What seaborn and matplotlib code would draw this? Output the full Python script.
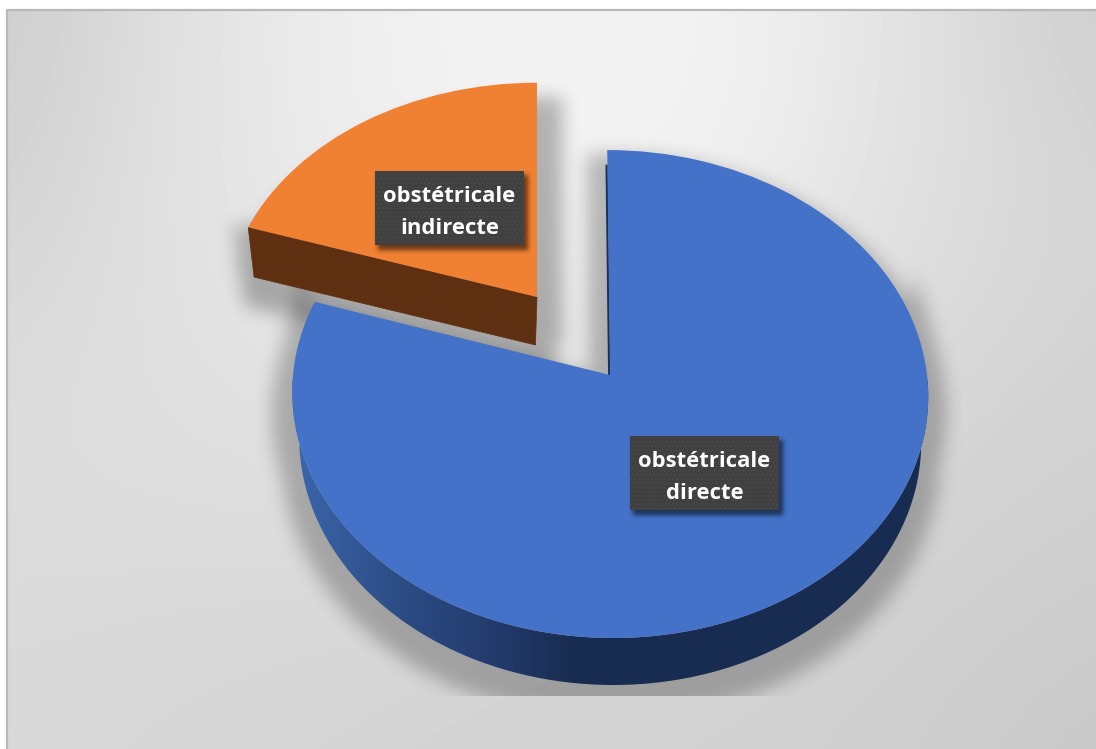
import numpy as np
import matplotlib
matplotlib.use("Agg")
import matplotlib.pyplot as plt
import seaborn as sns
from matplotlib.backends.backend_agg import FigureCanvasAgg
from matplotlib.figure import Figure
from matplotlib.patches import Polygon, Rectangle
from matplotlib.transforms import Transform

# Shares of the two categories
categories = ["obstétricale directe", "obstétricale indirecte"]
shares = [80, 20]
label_lines = [["obstétricale", "directe"], ["obstétricale", "indirecte"]]

W, H = 1096, 749
DPI = 100

sns.set_theme(style="white")
plt.rcParams["font.family"] = ["Open Sans", "DejaVu Sans"]
palette = sns.color_palette(["#4472C8", "#F08032"])


class TiltedDisc(Transform):
    """Projects the unit pie onto a receding plane, in pixel coordinates."""
    input_dims = output_dims = 2
    is_affine = False
    has_inverse = False

    def __init__(self, cx, cy, ax_x, ax_y, k=0.078, skew=0.0):
        super().__init__()
        self.cx, self.cy, self.ax_x, self.ax_y, self.k, self.skew = cx, cy, ax_x, ax_y, k, skew

    def transform_non_affine(self, values):
        values = np.asarray(values, dtype=float)
        x, y = values[:, 0], values[:, 1]
        w = 1 + self.k * y
        return np.column_stack([
            self.cx + self.ax_x * x / w - self.skew * y / w,
            self.cy - self.ax_y * y / w,
        ])


def rim(t, theta1, theta2, n=240):
    a = np.radians(np.linspace(theta1, theta2, n))
    return t.transform_non_affine(np.column_stack([np.cos(a), np.sin(a)]))


def apex(t):
    return t.transform_non_affine(np.array([[0.0, 0.0]]))


def soft_mask(polys, stroke, sigma):
    """Rasterises polygons and returns a blurred coverage array."""
    f = Figure(figsize=(W / DPI, H / DPI), dpi=DPI)
    f.patch.set_alpha(0)
    canvas = FigureCanvasAgg(f)
    a = f.add_axes([0, 0, 1, 1])
    a.set_xlim(0, W)
    a.set_ylim(H, 0)
    a.axis("off")
    for p in polys:
        a.add_patch(Polygon(p, closed=True, fc="k", ec="k", lw=stroke))
    canvas.draw()
    m = np.asarray(canvas.buffer_rgba())[:, :, 3].astype(float) / 255
    r = int(3 * sigma)
    g = np.exp(-0.5 * (np.arange(-r, r + 1) / sigma) ** 2)
    g /= g.sum()
    m = np.apply_along_axis(lambda v: np.convolve(v, g, mode="same"), 0, m)
    m = np.apply_along_axis(lambda v: np.convolve(v, g, mode="same"), 1, m)
    return m


def put_shadow(ax, m, strength, z):
    rgba = np.zeros((H, W, 4))
    rgba[:, :, 3] = np.clip(m * strength, 0, 1)
    ax.imshow(rgba, extent=(0, W, H, 0), zorder=z, interpolation="nearest", aspect="auto")


fig = plt.figure(figsize=(W / DPI, H / DPI), dpi=DPI, facecolor="white")
ax = fig.add_axes([0, 0, 1, 1])

wedges, _ = ax.pie(shares, startangle=90, counterclock=False, colors=palette, radius=1,
                   wedgeprops={"linewidth": 0})
ax.set_aspect("auto")
ax.set_xlim(0, W)
ax.set_ylim(H, 0)
ax.axis("off")

# Panel background: soft grey gradient, brightest near the top centre
panel_levels = np.array([
    [0xcb, 0xe2, 0xf0, 0xf4, 0xf2, 0xe2, 0xcc],
    [0xd0, 0xe3, 0xef, 0xf4, 0xf1, 0xe0, 0xd4],
    [0xd8, 0xe1, 0xe8, 0xec, 0xe8, 0xdc, 0xd4],
    [0xdc, 0xde, 0xe0, 0xe0, 0xdc, 0xd6, 0xd0],
    [0xda, 0xd9, 0xd8, 0xd6, 0xd6, 0xd0, 0xcc],
    [0xd8, 0xd6, 0xd4, 0xd2, 0xd0, 0xcd, 0xc8],
]) / 255
panel = ax.imshow(panel_levels, cmap="gray", vmin=0, vmax=1, extent=(-84, 1187, 823, -64),
                  interpolation="bicubic", aspect="auto", zorder=0)
panel.set_clip_path(Rectangle((7, 10), W - 7, H - 10, transform=ax.transData))
ax.plot([7, 7, W], [H, 10, 10], color="#b8b8b8", lw=1.6, zorder=0.5)
ax.set_xlim(0, W)
ax.set_ylim(H, 0)

blue, orange = wedges
blue_top = TiltedDisc(610, 375, 317, 242.5, skew=3)
blue_low = TiltedDisc(610, 421, 310, 243.4, skew=3)
orange_top = TiltedDisc(537, 297, 311, 231)
orange_low = TiltedDisc(535.5, 345, 303, 225)

blue.set_transform(blue_top + ax.transData)
orange.set_transform(orange_top + ax.transData)
blue.set_zorder(5)
orange.set_zorder(8)

# Outer wall of the large slice, shaded from left to right
wall_top = rim(blue_top, 172, 368)
wall_low = rim(blue_low, 172, 368)
wall_poly = np.vstack([wall_top, wall_low[::-1]])
ramp = np.array([
    [0x3b, 0x65, 0xab], [0x2c, 0x4c, 0x85], [0x22, 0x3a, 0x6b],
    [0x19, 0x2c, 0x52], [0x18, 0x2b, 0x50], [0x18, 0x2b, 0x50],
    [0x18, 0x2b, 0x50], [0x18, 0x2b, 0x50],
]) / 255
ramp_x = np.array([295, 400, 500, 570, 650, 750, 850, 950])
xs = np.arange(285, 960)
ramp_img = np.column_stack([np.interp(xs, ramp_x, ramp[:, i]) for i in range(3)])[None, :, :]
wall_img = ax.imshow(ramp_img, extent=(285, 960, 700, 380), aspect="auto", zorder=4)
wall_img.set_clip_path(Polygon(wall_poly, closed=True, transform=ax.transData))
ax.set_xlim(0, W)
ax.set_ylim(H, 0)

# Thin dark inner wall along the cut edge of the large slice
cut = np.radians(blue.theta2)
edge = blue_top.transform_non_affine(np.array([[0.0, 0.0], [0.93 * np.cos(cut), 0.93 * np.sin(cut)]]))
ax.plot(edge[:, 0] - 0.8, edge[:, 1], color="#1b2f58", lw=1.6, zorder=4.5, solid_capstyle="butt")

# Front wall of the detached slice
front = np.radians(orange.theta2)
pt_top = orange_top.transform_non_affine(np.array([[np.cos(front), np.sin(front)]]))
pt_low = orange_low.transform_non_affine(np.array([[np.cos(front), np.sin(front)]]))
front_poly = np.vstack([pt_top, apex(orange_top), apex(orange_low), pt_low])
ax.add_patch(Polygon(front_poly, closed=True, fc="#5e2f11", ec="#5e2f11", lw=0.5, zorder=7))

# Soft drop shadows
top_poly = np.vstack([apex(blue_top), rim(blue_top, blue.theta1, blue.theta2)])
m = soft_mask([top_poly + [-2, 22], wall_poly + [0, 16]], stroke=26, sigma=9)
m[696:, :] = 0
m[:, 962:] = 0
put_shadow(ax, m, 0.25, 2)

or_poly = np.vstack([apex(orange_top), rim(orange_top, orange.theta1, orange.theta2)])
m = soft_mask([or_poly + [10, 30], front_poly + [4, 16]], stroke=22, sigma=9)
put_shadow(ax, m, 0.27, 3)

# Category labels on dark textured boxes
boxes = [(630, 436, 149, 74), (375, 171, 149, 74)]
plt.rcParams["hatch.linewidth"] = 0.6
for lines, (bx, by, bw, bh), z in zip(label_lines, boxes, (10, 12)):
    corners = np.array([[bx, by], [bx + bw, by], [bx + bw, by + bh], [bx, by + bh]], dtype=float)
    put_shadow(ax, soft_mask([corners + [3, 4]], stroke=1, sigma=2.2), 0.55, z)
    ax.add_patch(Rectangle((bx, by), bw, bh, fc="#404040", ec="#4b4b4b", lw=0,
                           hatch="....", zorder=z + 0.2))
    for offset, line in zip((0.35, 0.78), lines):
        ax.text(bx + bw / 2, by + bh * offset, line, color="white", fontsize=15.8, fontweight="bold",
                ha="center", va="center", zorder=z + 0.4)

ax.set_xlim(0, W)
ax.set_ylim(H, 0)
fig.savefig("out.png", dpi=DPI, facecolor="white")
